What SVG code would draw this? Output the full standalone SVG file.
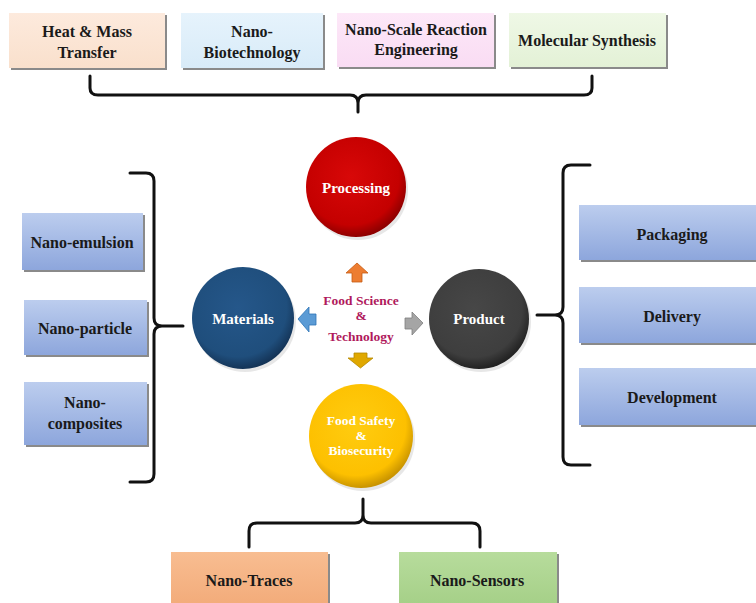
<svg xmlns="http://www.w3.org/2000/svg" width="756" height="603" viewBox="0 0 756 603">
<defs>
<style>
.lbl{font-family:"Liberation Serif","Times New Roman",serif;font-weight:bold;font-size:16px;fill:#1a1a1a;text-anchor:middle}
.clbl{font-family:"Liberation Serif","Times New Roman",serif;font-weight:bold;font-size:15px;fill:#ffffff;text-anchor:middle}
.ctr{font-family:"Liberation Serif","Times New Roman",serif;font-weight:bold;font-size:13.5px;fill:#b0195c;text-anchor:middle}
.shadow{fill:#8a8a8a}
.brace{fill:none;stroke:#111;stroke-width:3;stroke-linecap:round;stroke-linejoin:round}
</style>
<linearGradient id="gBlue" x1="0" y1="0" x2="0" y2="1"><stop offset="0" stop-color="#bccdee"/><stop offset="1" stop-color="#8da6dc"/></linearGradient>
<linearGradient id="gPeach" x1="0" y1="0" x2="0" y2="1"><stop offset="0" stop-color="#fdeadd"/><stop offset="1" stop-color="#f9e0cc"/></linearGradient>
<linearGradient id="gSky" x1="0" y1="0" x2="0" y2="1"><stop offset="0" stop-color="#e6f3fc"/><stop offset="1" stop-color="#d8ebf8"/></linearGradient>
<linearGradient id="gPink" x1="0" y1="0" x2="0" y2="1"><stop offset="0" stop-color="#fde8f8"/><stop offset="1" stop-color="#f9dcf3"/></linearGradient>
<linearGradient id="gGreen" x1="0" y1="0" x2="0" y2="1"><stop offset="0" stop-color="#eff8e6"/><stop offset="1" stop-color="#e3f1d6"/></linearGradient>
<linearGradient id="gOrange" x1="0" y1="0" x2="0" y2="1"><stop offset="0" stop-color="#f8bd91"/><stop offset="1" stop-color="#f2a977"/></linearGradient>
<linearGradient id="gLime" x1="0" y1="0" x2="0" y2="1"><stop offset="0" stop-color="#b7dc9c"/><stop offset="1" stop-color="#a3ce85"/></linearGradient>
<radialGradient id="rRed" cx="0.45" cy="0.4" r="0.6"><stop offset="0" stop-color="#d80808"/><stop offset="0.8" stop-color="#c40000"/><stop offset="1" stop-color="#8e0000"/></radialGradient>
<radialGradient id="rBlue" cx="0.45" cy="0.4" r="0.6"><stop offset="0" stop-color="#25578a"/><stop offset="0.8" stop-color="#1f4e7c"/><stop offset="1" stop-color="#143457"/></radialGradient>
<radialGradient id="rGray" cx="0.45" cy="0.4" r="0.6"><stop offset="0" stop-color="#474747"/><stop offset="0.8" stop-color="#3e3e3e"/><stop offset="1" stop-color="#222"/></radialGradient>
<radialGradient id="rYellow" cx="0.45" cy="0.4" r="0.6"><stop offset="0" stop-color="#ffcc10"/><stop offset="0.8" stop-color="#fdc000"/><stop offset="1" stop-color="#c99400"/></radialGradient>
</defs>
<rect width="756" height="603" fill="#ffffff"/>

<g id="connectors">
<path class="brace" d="M90 76 L90 88 Q90 95 98 95 L350 95 Q358 95 358 103 L358 112 L358 103 Q358 95 366 95 L584 95 Q592 95 592 88 L592 76"/>
<path class="brace" d="M130 173 L146 173 Q154 173 154 181 L154 318 Q154 326 162 326 L183 326 L162 326 Q154 326 154 334 L154 474 Q154 482 146 482 L130 482"/>
<path class="brace" d="M590 165 L571 165 Q563 165 563 173 L563 307 Q563 315 555 315 L537 315 L555 315 Q563 315 563 323 L563 457 Q563 465 571 465 L590 465"/>
<path class="brace" d="M249 547 L249 531 Q249 523 257 523 L355 523 Q363 523 363 515 L363 499 L363 515 Q363 523 371 523 L472 523 Q480 523 480 531 L480 547"/>
</g>

<g id="arrows">
<path d="M346 273 L357 263 L368 273 L362 273 L362 282 L352 282 L352 273 Z" fill="#ed7d31" stroke="#c55a11" stroke-width="0.8"/>
<path d="M298 319 L309 307 L309 314 L316 314 L316 325 L309 325 L309 332 Z" fill="#5b9bd5" stroke="#2e75b6" stroke-width="0.8"/>
<path d="M423 323 L412 312 L412 318 L405 318 L405 329 L412 329 L412 335 Z" fill="#a5a5a5" stroke="#7f7f7f" stroke-width="0.8"/>
<path d="M348 358 L354 358 L354 353 L367 353 L367 358 L373 358 L360.5 368 Z" fill="#e0a800" stroke="#b58800" stroke-width="0.8"/>
</g>

<g id="heat">
<rect class="shadow" x="11" y="15" width="156" height="55"/>
<rect x="9" y="13" width="156" height="55" fill="url(#gPeach)"/>
<text class="lbl" x="87" y="37">Heat &amp; Mass</text>
<text class="lbl" x="87" y="58">Transfer</text>
</g>
<g id="nanobio">
<rect class="shadow" x="183" y="15" width="142" height="55"/>
<rect x="181" y="13" width="142" height="55" fill="url(#gSky)"/>
<text class="lbl" x="252" y="37">Nano-</text>
<text class="lbl" x="252" y="58">Biotechnology</text>
</g>
<g id="nanoscale">
<rect class="shadow" x="339" y="15" width="157" height="54"/>
<rect x="337" y="13" width="157" height="54" fill="url(#gPink)"/>
<text class="lbl" x="416" y="35">Nano-Scale Reaction</text>
<text class="lbl" x="416" y="55">Engineering</text>
</g>
<g id="molecular">
<rect class="shadow" x="511" y="15" width="157" height="54"/>
<rect x="509" y="13" width="157" height="54" fill="url(#gGreen)"/>
<text class="lbl" x="587" y="46">Molecular Synthesis</text>
</g>

<g id="processing">
<circle cx="358" cy="190" r="50" fill="#d0d0d0" opacity="0.5"/>
<circle cx="356" cy="187" r="50" fill="url(#rRed)"/>
<text class="clbl" x="356" y="193">Processing</text>
</g>
<g id="materials">
<circle cx="245" cy="321" r="51" fill="#d0d0d0" opacity="0.5"/>
<circle cx="243" cy="318" r="51" fill="url(#rBlue)"/>
<text class="clbl" x="243" y="324">Materials</text>
</g>
<g id="product">
<circle cx="481" cy="322" r="50" fill="#d0d0d0" opacity="0.5"/>
<circle cx="479" cy="319" r="50" fill="url(#rGray)"/>
<text class="clbl" x="479" y="324">Product</text>
</g>
<g id="foodsafety">
<circle cx="363" cy="439" r="52" fill="#d0d0d0" opacity="0.5"/>
<circle cx="361" cy="436" r="52" fill="url(#rYellow)"/>
<text class="clbl" style="font-size:13.5px" x="361" y="425">Food Safety</text>
<text class="clbl" style="font-size:13.5px" x="361" y="440">&amp;</text>
<text class="clbl" style="font-size:13.5px" x="361" y="455">Biosecurity</text>
</g>
<g id="center">
<text class="ctr" x="361" y="305">Food Science</text>
<text class="ctr" x="361" y="320">&amp;</text>
<text class="ctr" x="361" y="341">Technology</text>
</g>

<g id="emulsion">
<rect class="shadow" x="24" y="215" width="121" height="57"/>
<rect x="22" y="213" width="121" height="57" fill="url(#gBlue)"/>
<text class="lbl" x="82" y="248">Nano-emulsion</text>
</g>
<g id="particle">
<rect class="shadow" x="26" y="302" width="123" height="55"/>
<rect x="24" y="300" width="123" height="55" fill="url(#gBlue)"/>
<text class="lbl" x="85" y="334">Nano-particle</text>
</g>
<g id="composites">
<rect class="shadow" x="26" y="384" width="123" height="63"/>
<rect x="24" y="382" width="123" height="63" fill="url(#gBlue)"/>
<text class="lbl" x="85" y="408">Nano-</text>
<text class="lbl" x="85" y="429">composites</text>
</g>

<g id="packaging">
<rect class="shadow" x="581" y="207" width="190" height="55"/>
<rect x="579" y="205" width="190" height="55" fill="url(#gBlue)"/>
<text class="lbl" x="672" y="240">Packaging</text>
</g>
<g id="delivery">
<rect class="shadow" x="581" y="289" width="190" height="56"/>
<rect x="579" y="287" width="190" height="56" fill="url(#gBlue)"/>
<text class="lbl" x="672" y="322">Delivery</text>
</g>
<g id="development">
<rect class="shadow" x="581" y="370" width="190" height="57"/>
<rect x="579" y="368" width="190" height="57" fill="url(#gBlue)"/>
<text class="lbl" x="672" y="403">Development</text>
</g>

<g id="traces">
<rect class="shadow" x="173" y="554" width="157" height="60"/>
<rect x="171" y="552" width="157" height="60" fill="url(#gOrange)"/>
<text class="lbl" x="249" y="586">Nano-Traces</text>
</g>
<g id="sensors">
<rect class="shadow" x="401" y="554" width="158" height="60"/>
<rect x="399" y="552" width="158" height="60" fill="url(#gLime)"/>
<text class="lbl" x="477" y="586">Nano-Sensors</text>
</g>
</svg>
